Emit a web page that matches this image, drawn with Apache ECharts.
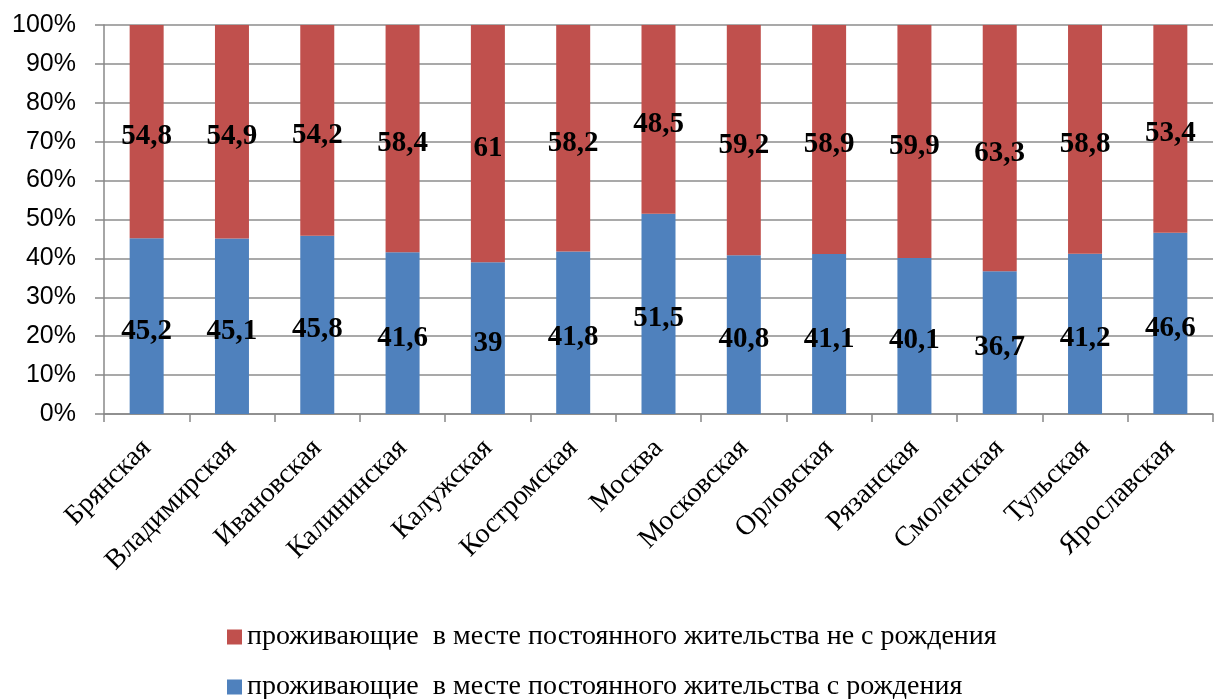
<!DOCTYPE html>
<html><head><meta charset="utf-8">
<script src="https://cdn.jsdelivr.net/npm/echarts@6/dist/echarts.min.js"></script>
<style>html,body{margin:0;padding:0;background:#fff}#c{width:1224px;height:699px}</style>
</head><body><div id="c"></div>
<script>
const categories = ['Брянская','Владимирская','Ивановская','Калининская','Калужская','Костромская','Москва','Московская','Орловская','Рязанская','Смоленская','Тульская','Ярославская'];
const fromBirth = [45.2,45.1,45.8,41.6,39,41.8,51.5,40.8,41.1,40.1,36.7,41.2,46.6];
const notFromBirth = [54.8,54.9,54.2,58.4,61,58.2,48.5,59.2,58.9,59.9,63.3,58.8,53.4];
const yTicks = {min:0,max:100,interval:10};
const nameNot = 'проживающие  в месте постоянного жительства не с рождения';
const nameFrom = 'проживающие  в месте постоянного жительства с рождения';

const chart = echarts.init(document.getElementById('c'));
const fmt = p => String(p.value).replace('.', ',');
const lbl = {show:true,position:'inside',offset:[0,5],formatter:fmt,color:'#000',fontFamily:'Liberation Serif',fontWeight:'bold',fontSize:29};
const legText = {fontFamily:'Liberation Serif',fontSize:28,color:'#000'};
chart.setOption({
  animation:false,
  grid:{left:104,right:11,top:25,bottom:285},
  legend:[
    {left:222,top:618,itemWidth:15,itemHeight:15,itemGap:4,icon:'rect',textStyle:legText,data:[nameNot]},
    {left:222,top:668,itemWidth:15,itemHeight:15,itemGap:4,icon:'rect',textStyle:legText,data:[nameFrom]}
  ],
  xAxis:{type:'category',data:categories,
    axisLine:{lineStyle:{color:'#888',width:1.5}},
    axisTick:{show:true,length:8,lineStyle:{color:'#888',width:1.5}},
    axisLabel:{rotate:45,margin:30,fontFamily:'Liberation Serif',fontSize:28,color:'#000',interval:0}},
  yAxis:{type:'value',min:yTicks.min,max:yTicks.max,interval:yTicks.interval,
    axisLine:{show:true,lineStyle:{color:'#888',width:1.5}},
    axisTick:{show:true,length:9,lineStyle:{color:'#888',width:1.5}},
    splitLine:{lineStyle:{color:'#8c8c8c',width:1.5}},
    axisLabel:{formatter:v=>v+'%',fontFamily:'Liberation Sans',fontSize:25,color:'#000',margin:28}},
  series:[
    {name:nameFrom,type:'bar',stack:'s',data:fromBirth,barWidth:34,itemStyle:{color:'#4F81BD'},label:lbl},
    {name:nameNot,type:'bar',stack:'s',data:notFromBirth,barWidth:34,itemStyle:{color:'#C0504D'},label:lbl}
  ]
});
</script></body></html>
